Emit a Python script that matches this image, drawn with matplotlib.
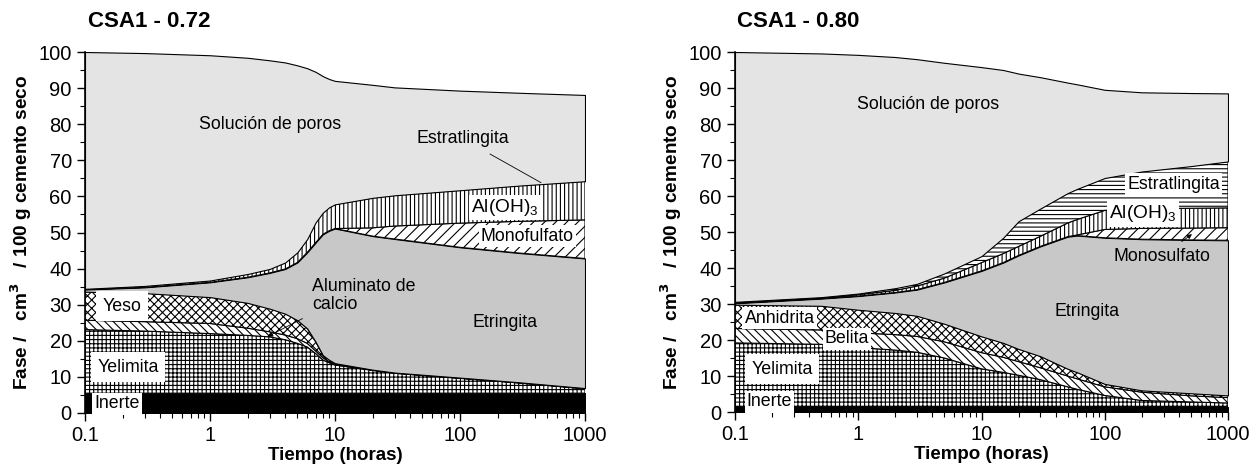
import numpy as np
import matplotlib.pyplot as plt
import matplotlib as mpl

plt.rcParams['font.family'] = ['Liberation Sans', 'DejaVu Sans']
plt.rcParams['mathtext.fontset'] = 'custom'
plt.rcParams['mathtext.rm'] = 'Liberation Sans'
plt.rcParams['hatch.linewidth'] = 0.8

# ---- CSA1 - 0.72 (cumulative upper boundary of each phase) ----
t1 = [0.1, 0.3, 1, 2, 3, 4, 5, 6, 7, 8, 9, 10, 20, 30, 100, 300, 1000]
inerte1 = 5.5
yelimita1 = [23.1, 22.7, 22.0, 21.5, 21.1, 20.3, 19.3, 18.3, 16.5, 14.7, 13.9, 13.3, 11.8, 11.0, 9.6, 8.3, 6.7]
aluminato1 = [25.7, 25.3, 24.8, 23.5, 22.5, 21.6, 20.6, 19.3, 17.2, 15.3, 14.2, 13.5, 11.9, 11.1, 9.7, 8.4, 6.8]
yeso1 = [33.6, 33.2, 32.1, 30.5, 28.9, 27.5, 25.7, 23.4, 19.7, 16.0, 14.7, 13.8, 12.0, 11.2, 9.8, 8.5, 6.9]
etringita1 = [34.2, 34.8, 36.2, 37.6, 38.8, 39.9, 41.7, 44.5, 47.2, 49.5, 50.5, 51.1, 49.0, 48.2, 45.9, 44.3, 42.8]
monofulfato1 = [34.2, 34.8, 36.2, 37.6, 38.8, 39.9, 41.7, 44.5, 47.2, 49.5, 50.5, 51.1, 51.3, 51.8, 52.6, 53.1, 53.5]
aloh1 = [34.4, 35.2, 36.7, 38.5, 39.9, 41.7, 44.5, 48.2, 52.8, 55.5, 57.0, 57.8, 59.6, 60.3, 61.7, 63.0, 64.2]
solucion1 = [100, 99.7, 99.1, 98.4, 97.7, 97.1, 96.3, 95.5, 94.5, 93.3, 92.5, 92.0, 90.9, 90.2, 89.3, 88.7, 88.1]

# ---- CSA1 - 0.80 ----
t2 = [0.1, 0.5, 1, 2, 3, 5, 10, 15, 20, 30, 50, 60, 100, 200, 500, 1000]
inerte2 = 1.5
yelimita2 = [19.2, 18.8, 17.9, 17.2, 16.6, 15.0, 12.0, 11.0, 10.2, 9.0, 7.0, 6.3, 4.6, 3.2, 2.8, 2.5]
belita2 = [23.2, 22.8, 22.0, 21.5, 21.0, 19.5, 16.5, 15.2, 14.0, 12.3, 10.0, 9.2, 7.0, 5.5, 4.5, 4.0]
anhidrita2 = [29.8, 29.5, 28.4, 27.5, 26.7, 24.5, 21.0, 19.2, 17.5, 15.5, 12.0, 11.0, 7.8, 6.0, 5.2, 4.6]
etringita2 = [30.2, 31.5, 32.2, 33.2, 34.0, 36.0, 39.2, 41.5, 43.5, 46.0, 48.7, 49.0, 48.4, 48.0, 47.8, 47.7]
monosulfato2 = [30.2, 31.5, 32.2, 33.2, 34.0, 36.0, 39.2, 41.5, 43.5, 46.0, 48.7, 49.2, 50.7, 51.0, 51.1, 51.2]
aloh2 = [30.4, 31.7, 32.6, 33.8, 35.0, 37.2, 41.5, 44.0, 46.0, 48.8, 52.5, 53.5, 56.0, 56.5, 56.6, 56.7]
estratlingita2 = [30.6, 31.9, 32.9, 34.4, 35.6, 38.5, 43.3, 48.4, 53.0, 56.5, 60.8, 62.0, 65.0, 66.8, 68.3, 69.6]
solucion2 = [100, 99.6, 99.2, 98.6, 98.0, 97.0, 95.8, 95.0, 94.0, 93.0, 91.5, 91.0, 89.5, 88.8, 88.6, 88.5]

fig = plt.figure(figsize=(12.59, 4.71), dpi=100)
ax1 = fig.add_axes([85/1259, 1-413/471, 500/1259, 361/471])
ax2 = fig.add_axes([735/1259, 1-412/471, 493/1259, 360/471])


def layer(ax, t, lo, hi, face, hatch=None):
    lo = np.broadcast_to(lo, (len(t),))
    ax.fill_between(t, lo, hi, facecolor=face, edgecolor='black',
                    hatch=hatch, linewidth=0.8)


# left panel
layer(ax1, t1, 0, inerte1, 'black')
layer(ax1, t1, inerte1, yelimita1, 'white', '++++')
layer(ax1, t1, yelimita1, aluminato1, 'white', '\\\\\\\\')
layer(ax1, t1, aluminato1, yeso1, 'white', 'xxxx')
layer(ax1, t1, yeso1, etringita1, '#c8c8c8')
layer(ax1, t1, etringita1, monofulfato1, 'white', '///')
layer(ax1, t1, monofulfato1, aloh1, 'white', '||||')
layer(ax1, t1, aloh1, solucion1, '#e4e4e4')

# right panel
layer(ax2, t2, 0, inerte2, 'black')
layer(ax2, t2, inerte2, yelimita2, 'white', '++++')
layer(ax2, t2, yelimita2, belita2, 'white', '\\\\\\\\')
layer(ax2, t2, belita2, anhidrita2, 'white', 'xxxx')
layer(ax2, t2, anhidrita2, etringita2, '#c8c8c8')
layer(ax2, t2, etringita2, monosulfato2, 'white', '///')
layer(ax2, t2, monosulfato2, aloh2, 'white', '||||')
layer(ax2, t2, aloh2, estratlingita2, 'white', '----')
layer(ax2, t2, estratlingita2, solucion2, '#e4e4e4')

box = dict(facecolor='white', edgecolor='none', pad=1.5)
bigbox = dict(facecolor='white', edgecolor='none', pad=4.5)
fs = 12.8

# labels left
ax1.text(3.0, 80, 'Solución de poros', fontsize=fs, ha='center', va='center')
ax1.annotate('Estratlingita', xy=(445, 63.8), xytext=(105, 76), fontsize=fs,
             ha='center', va='center',
             arrowprops=dict(arrowstyle='-', color='black', lw=0.6, shrinkA=6, shrinkB=0))
ax1.text(229, 57, 'Al(OH)$_3$', fontsize=fs + 1, ha='center', va='center', bbox=box)
ax1.text(345, 49, 'Monofulfato', fontsize=fs, ha='center', va='center', bbox=box)
ax1.text(6.6, 32.5, 'Aluminato de\ncalcio', fontsize=fs, ha='left', va='center',
         linespacing=1.1)
ax1.annotate('', xy=(2.75, 20.8), xytext=(5.75, 26.5),
             arrowprops=dict(arrowstyle='-|>', color='black', lw=0.6, mutation_scale=8))
ax1.text(229, 25.2, 'Etringita', fontsize=fs, ha='center', va='center')
ax1.text(0.198, 29.6, 'Yeso', fontsize=fs, ha='center', va='center', bbox=bigbox)
ax1.text(0.22, 12.7, 'Yelimita', fontsize=fs, ha='center', va='center', bbox=bigbox)
ax1.text(0.18, 2.5, 'Inerte', fontsize=fs, ha='center', va='center', bbox=box)

# labels right
ax2.text(3.7, 85.3, 'Solución de poros', fontsize=fs, ha='center', va='center')
ax2.text(363, 63.3, 'Estratlingita', fontsize=fs, ha='center', va='center', bbox=box)
ax2.text(204, 55, 'Al(OH)$_3$', fontsize=fs + 1, ha='center', va='center', bbox=box)
ax2.annotate('Monosulfato', xy=(510, 49.4), xytext=(290, 43.3), fontsize=fs,
             ha='center', va='center',
             arrowprops=dict(arrowstyle='-|>', color='black', lw=0.6,
                             mutation_scale=7, shrinkA=4, shrinkB=0))
ax2.text(72, 27.8, 'Etringita', fontsize=fs, ha='center', va='center')
ax2.text(0.23, 26.1, 'Anhidrita', fontsize=fs, ha='center', va='center', bbox=box)
ax2.text(0.81, 20.3, 'Belita', fontsize=fs, ha='center', va='center', bbox=box)
ax2.text(0.24, 11.9, 'Yelimita', fontsize=fs, ha='center', va='center', bbox=bigbox)
ax2.text(0.19, 2.8, 'Inerte', fontsize=fs, ha='center', va='center', bbox=box)

for ax, title in [(ax1, 'CSA1 - 0.72'), (ax2, 'CSA1 - 0.80')]:
    ax.set_xscale('log')
    ax.set_xlim(0.1, 1000)
    ax.set_ylim(0, 100)
    ax.xaxis.set_major_locator(mpl.ticker.FixedLocator([0.1, 1, 10, 100, 1000]))
    ax.xaxis.set_major_formatter(mpl.ticker.FixedFormatter(['0.1', '1', '10', '100', '1000']))
    ax.xaxis.set_minor_formatter(mpl.ticker.NullFormatter())
    ax.set_yticks(range(0, 101, 10))
    ax.yaxis.set_minor_locator(mpl.ticker.MultipleLocator(5))
    ax.tick_params(axis='both', which='major', labelsize=14.5, length=6, width=1)
    ax.tick_params(axis='both', which='minor', length=3.5, width=0.8)
    for s in ['top', 'right']:
        ax.spines[s].set_visible(False)
    ax.spines['left'].set_linewidth(1.2)
    ax.spines['bottom'].set_linewidth(1.2)
    ax.set_xlabel('Tiempo (horas)', fontsize=13.5, fontweight='bold', labelpad=1)
    ax.set_ylabel('Fase /   cm$^\\mathbf{3}$   / 100 g cemento seco', fontsize=13.7,
                  fontweight='bold', labelpad=3)
    ax.text(0.005, 1.085, title, transform=ax.transAxes, fontsize=16,
            fontweight='bold', ha='left', va='center')

plt.savefig('out.png', dpi=100)
